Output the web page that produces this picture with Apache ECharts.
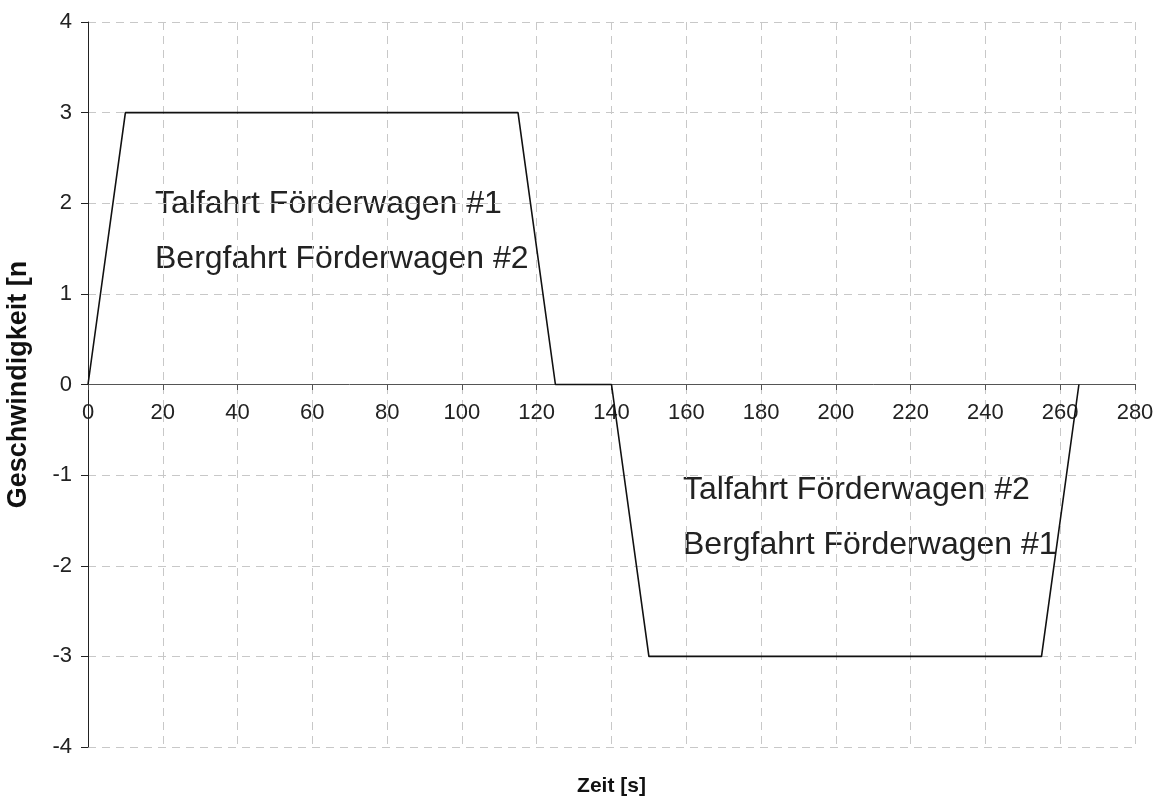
<!DOCTYPE html>
<html><head><meta charset="utf-8">
<script src="https://cdn.jsdelivr.net/npm/echarts@6/dist/echarts.min.js"></script>
<style>html,body{margin:0;padding:0;background:#fff}#c{width:1162px;height:798px}</style>
</head><body><div id="c"></div>
<script>
const timeS = [0, 10, 115, 125, 140, 150, 255, 265];
const speed = [0, 3, 3, 0, 0, -3, -3, 0];
const xTicks = [0, 280, 20];
const yTicks = [-4, 4, 1];
const xName = 'Zeit [s]';
const yName = 'Geschwindigkeit [n';
const labels = ['Talfahrt Förderwagen #1', 'Bergfahrt Förderwagen #2', 'Talfahrt Förderwagen #2', 'Bergfahrt Förderwagen #1'];

const font = 'Liberation Sans, Arial, sans-serif';
const chart = echarts.init(document.getElementById('c'), null, {renderer: 'canvas'});
const gridLine = {show: true, lineStyle: {color: '#c8c8c8', type: [8, 6], width: 1}};
chart.setOption({
  animation: false,
  grid: {left: 88, right: 27, top: 22, bottom: 51, containLabel: false, outerBoundsMode: 'none'},
  xAxis: {
    type: 'value', min: xTicks[0], max: xTicks[1], interval: xTicks[2],
    position: 'bottom', offset: -363,
    name: xName, nameLocation: 'middle', nameGap: 392, nameMoveOverlap: false,
    nameTextStyle: {fontFamily: font, fontSize: 21, fontWeight: 'bold', color: '#111'},
    axisLine: {onZero: false, lineStyle: {color: '#555', width: 1}},
    axisTick: {show: true, inside: false, length: 6, lineStyle: {color: '#555'}},
    axisLabel: {fontFamily: font, fontSize: 22, color: '#222', margin: 18},
    splitLine: gridLine
  },
  yAxis: {
    type: 'value', min: yTicks[0], max: yTicks[1], interval: yTicks[2],
    name: yName, nameLocation: 'middle', nameGap: 56,
    nameTextStyle: {fontFamily: font, fontSize: 27, fontWeight: 'bold', color: '#111'},
    axisLine: {show: true, lineStyle: {color: '#222', width: 1}},
    axisTick: {show: true, inside: false, length: 7, lineStyle: {color: '#222'}},
    axisLabel: {fontFamily: font, fontSize: 22, color: '#222', margin: 16},
    splitLine: gridLine
  },
  series: [{
    type: 'line', data: timeS.map((t, i) => [t, speed[i]]),
    symbol: 'none', lineStyle: {color: '#111', width: 1.6}
  }],
  graphic: [
    {type: 'text', left: 155, top: 188, style: {text: labels[0], font: '32px ' + font, fill: '#222'}},
    {type: 'text', left: 155, top: 243, style: {text: labels[1], font: '32px ' + font, fill: '#222'}},
    {type: 'text', left: 683, top: 474, style: {text: labels[2], font: '32px ' + font, fill: '#222'}},
    {type: 'text', left: 683, top: 529, style: {text: labels[3], font: '32px ' + font, fill: '#222'}}
  ]
});
</script></body></html>
